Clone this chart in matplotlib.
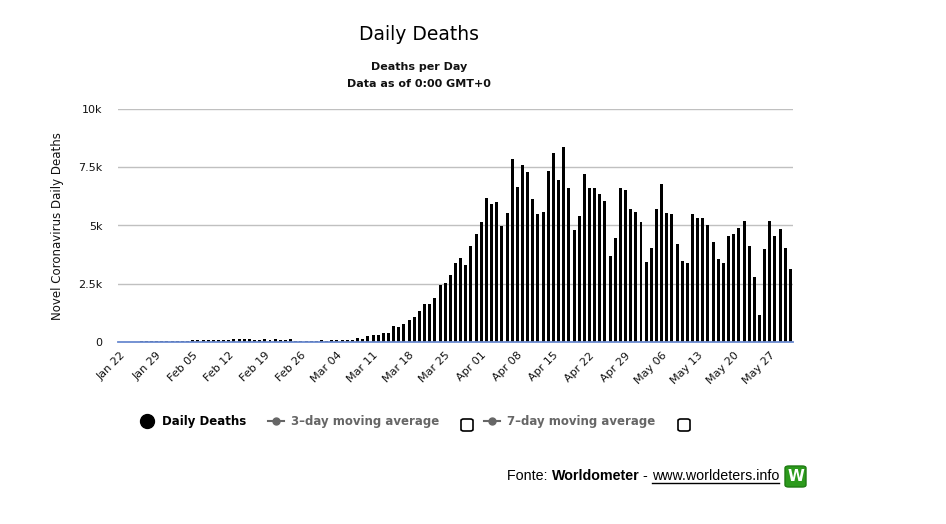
import matplotlib
matplotlib.use("Agg")
import matplotlib.pyplot as plt
from matplotlib.patches import FancyBboxPatch
from matplotlib.lines import Line2D
import numpy as np

# ---------------- data ----------------
tick_labels = ["Jan 22", "Jan 29", "Feb 05", "Feb 12", "Feb 19", "Feb 26", "Mar 04",
               "Mar 11", "Mar 18", "Mar 25", "Apr 01", "Apr 08", "Apr 15", "Apr 22",
               "Apr 29", "May 06", "May 13", "May 20", "May 27"]

# daily deaths Jan 22 .. May 31 (131 days)
deaths_jan22_feb04 = [9, 8, 16, 14, 24, 26, 26, 30, 28, 30, 32, 34, 36, 38]
deaths_feb05_feb24 = [70, 70, 75, 80, 80, 85, 90, 100, 130, 140, 130, 110, 80, 75,
                      120, 80, 120, 80, 75, 110]
deaths_feb25_mar07 = [30, 30, 30, 30, 30, 70, 30, 70, 70, 70, 70, 70]
deaths_mar08_mar31 = [186, 143, 250, 286, 286, 386, 386, 672, 629, 765, 958, 1058,
                      1316, 1625, 1625, 1888, 2430, 2550, 2889, 3403, 3589, 3318,
                      4104, 4619]
deaths_apr = [5148, 6192, 5906, 5992, 4962, 5520, 7836, 6664, 7608, 7279, 6149, 5477,
              5577, 7322, 8122, 6936, 8351, 6621, 4819, 5420, 7222, 6607, 6607, 6335,
              6035, 3675, 4447, 6607, 6507, 5720]
deaths_may = [5577, 5162, 3418, 4018, 5720, 6778, 5520, 5477, 4204, 3461, 3403, 5477,
              5305, 5305, 5005, 4304, 3561, 3403, 4533, 4619, 4876, 5205, 4104, 2789,
              1144, 3990, 5205, 4533, 4833, 4018, 3117]

daily_deaths = (deaths_jan22_feb04 + deaths_feb05_feb24 + deaths_feb25_mar07 +
                deaths_mar08_mar31 + deaths_apr + deaths_may)

y_ticks = [0, 2500, 5000, 7500, 10000]
y_tick_labels = ["0", "2.5k", "5k", "7.5k", "10k"]

# ---------------- figure ----------------
W, H = 946, 524
fig = plt.figure(figsize=(W / 100, H / 100), dpi=100)
fig.patch.set_facecolor("white")

def fx(px):
    return px / W

def fy(py):
    return 1 - py / H

ax = fig.add_axes([fx(118), fy(342), fx(793) - fx(118), fy(109) - fy(342)])
x = np.arange(len(daily_deaths))
ax.bar(x, daily_deaths, width=0.58, color="black", zorder=2)

ax.set_xlim(-0.5, len(daily_deaths) - 0.5)
ax.set_ylim(0, 10000)
ax.set_yticks(y_ticks)
ax.set_yticklabels(y_tick_labels, fontsize=8, color="#111111")
ax.set_xticks(np.arange(0, len(daily_deaths), 7)[:len(tick_labels)])
ax.set_xticklabels(tick_labels, rotation=45, ha="right", va="top",
                   rotation_mode="anchor", fontsize=8, color="#111111")
ax.tick_params(axis="both", length=0)
ax.tick_params(axis="y", pad=11)
ax.tick_params(axis="x", pad=6)

for s in ["top", "right", "left"]:
    ax.spines[s].set_visible(False)
ax.spines["bottom"].set_color("#6a8ad0")
ax.spines["bottom"].set_linewidth(1.3)
ax.spines["bottom"].set_zorder(5)
ax.grid(axis="y", color="#c0c0c0", linewidth=1)
ax.set_axisbelow(True)

fig.text(fx(58), fy(226), "Novel Coronavirus Daily Deaths", rotation=90,
         ha="center", va="center", fontsize=8.5, color="#111111")

# titles
fig.text(fx(419), fy(34), "Daily Deaths", ha="center", va="center",
         fontsize=13.5, color="#000000")
fig.text(fx(419), fy(67), "Deaths per Day", ha="center", va="center",
         fontsize=8, color="#111111", fontweight="bold")
fig.text(fx(419), fy(84), "Data as of 0:00 GMT+0", ha="center", va="center",
         fontsize=8, color="#111111", fontweight="bold")

# legend (manual)
ly = 421
fig.add_artist(Line2D([fx(147)], [fy(ly)], marker="o", markersize=10,
                      color="black", transform=fig.transFigure))
fig.text(fx(162), fy(ly), "Daily Deaths", ha="left", va="center",
         fontsize=8.5, fontweight="bold", color="black")

grey = "#666666"
for x0, label, bx in [(268, "3\u2013day moving average", 467),
                      (484, "7\u2013day moving average", 684)]:
    fig.add_artist(Line2D([fx(x0), fx(x0 + 16)], [fy(ly), fy(ly)], color=grey,
                          linewidth=1.5, transform=fig.transFigure))
    fig.add_artist(Line2D([fx(x0 + 8)], [fy(ly)], marker="o", markersize=5,
                          color=grey, transform=fig.transFigure))
    fig.text(fx(x0 + 23), fy(ly), label, ha="left", va="center",
             fontsize=8.5, fontweight="bold", color=grey)
    fig.add_artist(FancyBboxPatch((fx(bx - 6), fy(431)), 12 / W, 12 / H,
                                  boxstyle="round,pad=0,rounding_size=0.003",
                                  transform=fig.transFigure, facecolor="white",
                                  edgecolor="black", linewidth=1.2))

# footer
fig.canvas.draw()
renderer = fig.canvas.get_renderer()
cur = 507
fy_foot = fy(476)
parts = [("Fonte: ", "normal", False), ("Worldometer", "bold", False),
         (" - ", "normal", False), ("www.worldeters.info", "normal", True)]
for txt, wt, underline in parts:
    t = fig.text(fx(cur), fy_foot, txt, ha="left", va="center", fontsize=10.3,
                 fontweight=wt, family="Liberation Sans", color="black")
    bb = t.get_window_extent(renderer=renderer)
    if underline:
        fig.add_artist(Line2D([fx(cur), fx(cur + bb.width)], [fy(483), fy(483)],
                              color="black", linewidth=1, transform=fig.transFigure))
    cur += bb.width

fig.add_artist(FancyBboxPatch((fx(785), fy(487)), 21 / W, 21 / H,
                              boxstyle="round,pad=0,rounding_size=0.004",
                              transform=fig.transFigure, facecolor="#2c9a1c",
                              edgecolor="#1e7a12", linewidth=1))
fig.text(fx(795.5), fy(476.5), "W", ha="center", va="center", fontsize=11,
         fontweight="bold", color="white", family="DejaVu Sans")

fig.savefig("out.png", dpi=100, facecolor="white")
